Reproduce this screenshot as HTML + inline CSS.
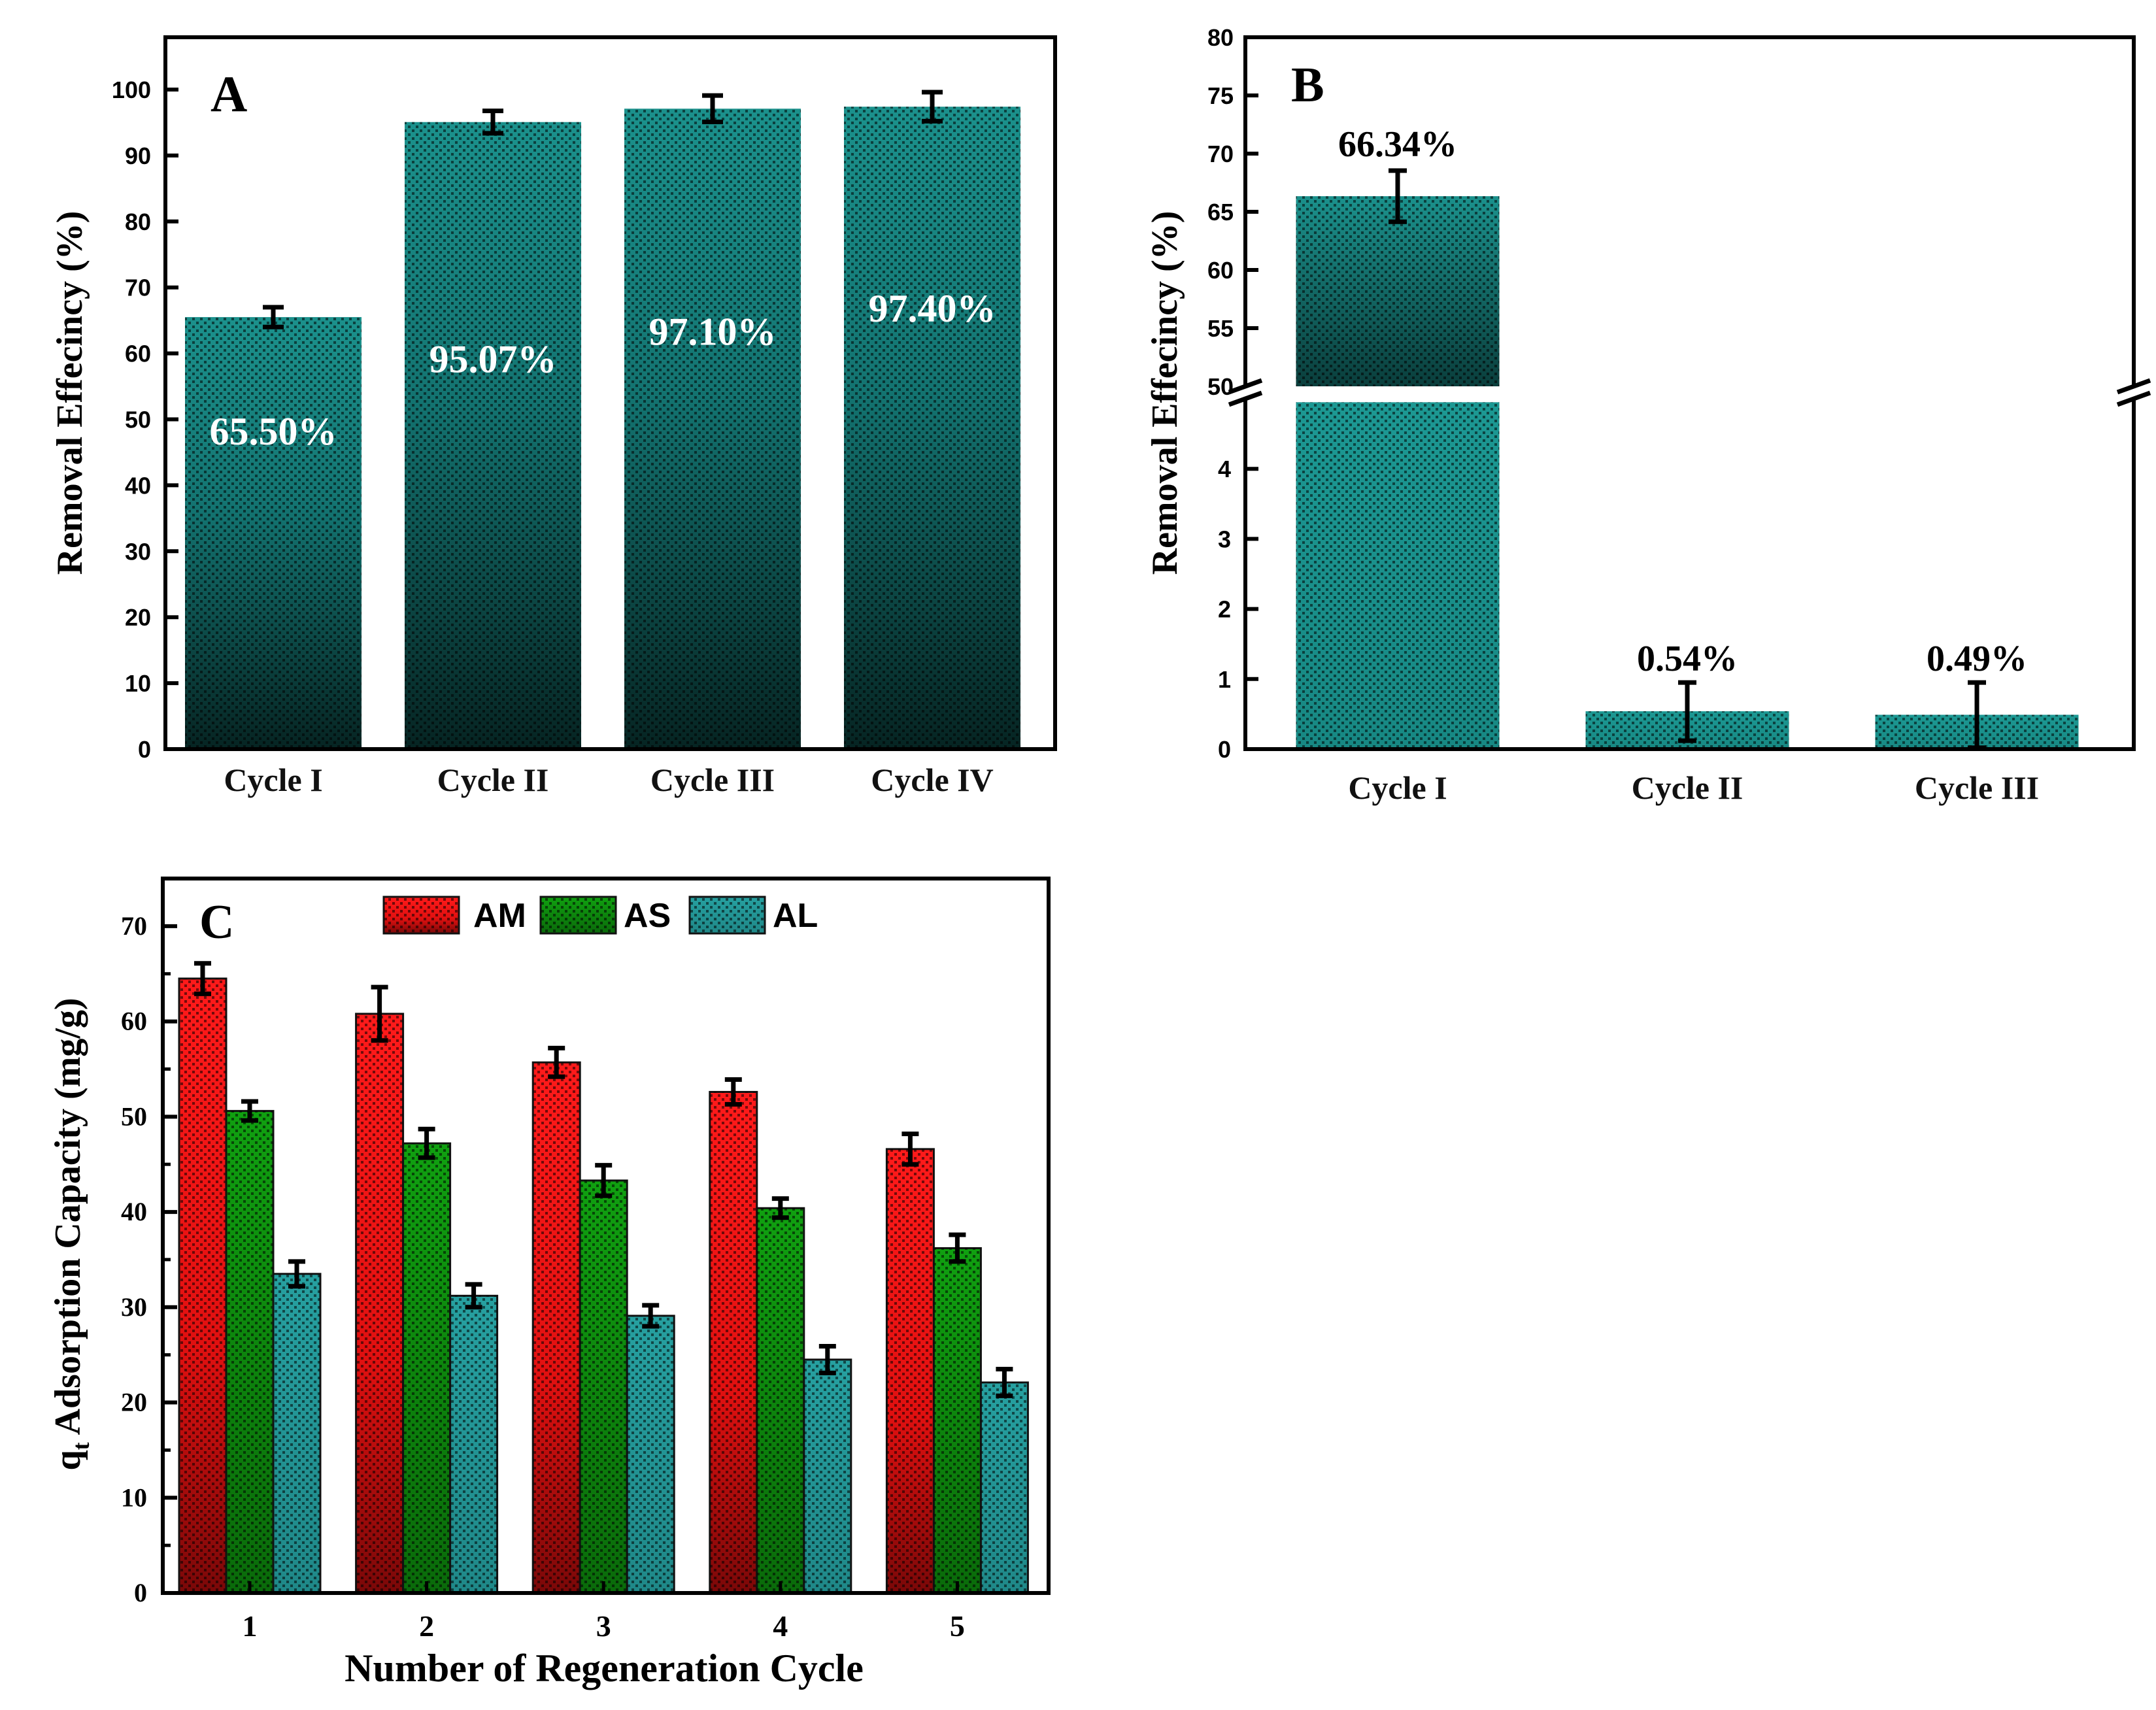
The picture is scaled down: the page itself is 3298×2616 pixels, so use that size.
<!DOCTYPE html>
<html><head><meta charset="utf-8"><style>
html,body{margin:0;padding:0;background:#fff;}
svg{display:block;}
.serif{font-family:"Liberation Serif",serif;font-weight:bold;}
.sans{font-family:"Liberation Sans",sans-serif;font-weight:bold;}
</style></head><body>
<svg id="fig" width="3298" height="2616" viewBox="0 0 3298 2616" xmlns="http://www.w3.org/2000/svg">
<defs>
<pattern id="dots" width="12" height="12" patternUnits="userSpaceOnUse">
<rect x="0" y="0" width="4" height="4" fill="#000" opacity="0.55"/>
<rect x="6" y="6" width="4" height="4" fill="#000" opacity="0.55"/>
</pattern>
<linearGradient id="gTeal" x1="0" y1="0" x2="0" y2="1">
<stop offset="0" stop-color="#1b918c"/><stop offset="0.45" stop-color="#137370"/><stop offset="1" stop-color="#062422"/>
</linearGradient>
<linearGradient id="gTealUp" x1="0" y1="0" x2="0" y2="1">
<stop offset="0" stop-color="#1b918c"/><stop offset="1" stop-color="#0a3e3c"/>
</linearGradient>
<linearGradient id="gTealFlat" x1="0" y1="0" x2="0" y2="1">
<stop offset="0" stop-color="#1c9893"/><stop offset="1" stop-color="#178883"/>
</linearGradient>
<linearGradient id="gRed" x1="0" y1="0" x2="0" y2="1">
<stop offset="0" stop-color="#ff1a1a"/><stop offset="0.6" stop-color="#e01010"/><stop offset="1" stop-color="#7a0808"/>
</linearGradient>
<linearGradient id="gGreen" x1="0" y1="0" x2="0" y2="1">
<stop offset="0" stop-color="#10a010"/><stop offset="1" stop-color="#0a6a0a"/>
</linearGradient>
<linearGradient id="gAL" x1="0" y1="0" x2="0" y2="1">
<stop offset="0" stop-color="#26a0a0"/><stop offset="1" stop-color="#1f8888"/>
</linearGradient>
</defs>
<g id="pa"></g>
<g id="pb"></g>
<g id="pc"></g>
</svg>
<script>
// Panel A data
const catsA = ["Cycle I","Cycle II","Cycle III","Cycle IV"];
const valsA = [65.5, 95.07, 97.1, 97.4];
const errA = [1.5, 1.7, 2.0, 2.2];
const labelsA = ["65.50%","95.07%","97.10%","97.40%"];
const ticksA = [0,10,20,30,40,50,60,70,80,90,100];
// Panel B data
const catsB = ["Cycle I","Cycle II","Cycle III"];
const valsB = [66.34, 0.54, 0.49];
const errHiB = [2.2, 0.41, 0.46];
const errLoB = [2.2, 0.42, 0.47];
const labelsB = ["66.34%","0.54%","0.49%"];
const ticksBLow = [0,1,2,3,4];
const ticksBHigh = [50,55,60,65,70,75,80];
// Panel C data
const catsC = ["1","2","3","4","5"];
const seriesC = ["AM","AS","AL"];
const valsAM = [64.5, 60.8, 55.7, 52.6, 46.6];
const valsAS = [50.6, 47.2, 43.3, 40.4, 36.2];
const valsAL = [33.5, 31.2, 29.1, 24.5, 22.1];
const errAM = [1.6, 2.8, 1.5, 1.3, 1.6];
const errAS = [1.0, 1.5, 1.6, 1.0, 1.4];
const errAL = [1.3, 1.2, 1.1, 1.4, 1.4];
const ticksC = [0,10,20,30,40,50,60,70];

const NS="http://www.w3.org/2000/svg";
function mk(parent,tag,attrs,text){const e=document.createElementNS(NS,tag);for(const k in attrs)e.setAttribute(k,attrs[k]);if(text!==undefined)e.textContent=text;parent.appendChild(e);return e;}
function errbar(g,x,yTop,yBot,cap){
  const e=mk(g,'path',{d:`M${x-cap} ${yTop}H${x+cap}M${x} ${yTop}V${yBot}M${x-cap} ${yBot}H${x+cap}`,stroke:'#000','stroke-width':7,fill:'none'});
  
  
}
function bar(g,x,y,w,h,fill,stroke){
  const r=mk(g,'rect',{x:x,y:y,width:w,height:h,fill:fill,stroke:stroke||'none','stroke-width':stroke?3:0});
  
  
  mk(g,'rect',{x:x,y:y,width:w,height:h,fill:'url(#dots)'});
  return r;
}

// ---------- Panel A ----------
(function(){
  const g=document.getElementById('pa');
  const L=253,R=1614,T=57,B=1146;
  const y=v=>B-(B-137)*v/100;
  const x=i=>418+i*336;
  const bw=270;
  const labOff=[195,383,361,329];
  catsA.forEach((c,i)=>{
    bar(g,x(i)-bw/2,y(valsA[i]),bw,B-y(valsA[i]),'url(#gTeal)');
    errbar(g,x(i),y(valsA[i]+errA[i]),y(valsA[i]-errA[i]),16);
    const lbl=mk(g,'text',{x:x(i),y:y(valsA[i])+labOff[i],'text-anchor':'middle',class:'serif','font-size':60,fill:'#fff'},labelsA[i]);
    
    
    const cl=mk(g,'text',{x:x(i),y:1210,'text-anchor':'middle',class:'serif','font-size':50,fill:'#111'},c);
    
    
  });
  ticksA.forEach(t=>{
    mk(g,'line',{x1:L,x2:L+20,y1:y(t),y2:y(t),stroke:'#000','stroke-width':6});
    const tl=mk(g,'text',{x:L-22,y:y(t)+13,'text-anchor':'end',class:'sans','font-size':36},t);
    
    
  });
  const ax=mk(g,'rect',{x:L,y:T,width:R-L,height:B-T,fill:'none',stroke:'#000','stroke-width':6});
  
  
  const yt=mk(g,'text',{x:0,y:0,transform:'translate(125,601) rotate(-90)','text-anchor':'middle',class:'serif','font-size':56},'Removal Effecincy  (%)');
  
  
  const pl=mk(g,'text',{x:322,y:170,class:'serif','font-size':78},'A');
  
  
})();

// ---------- Panel B ----------
(function(){
  const g=document.getElementById('pb');
  const L=1905,R=3264,T=57,B=1146;
  const yLow=v=>B-(B-610)*v/5;
  const yHigh=v=>591-(591-57)*(v-50)/30;
  const x=i=>2138+i*443;
  const bw=311;
  catsB.forEach((c,i)=>{
    const v=valsB[i];
    if(v>5){
      bar(g,x(i)-bw/2,yLow(4.95),bw,B-yLow(4.95),'url(#gTealFlat)');
      bar(g,x(i)-bw/2,yHigh(v),bw,yHigh(50)-yHigh(v),'url(#gTealUp)');
      errbar(g,x(i),yHigh(v+errHiB[i]),yHigh(v-errLoB[i]),14);
      const lbl=mk(g,'text',{x:x(i),y:yHigh(v+errHiB[i])-22,'text-anchor':'middle',class:'serif','font-size':56},labelsB[i]);
      
      
    } else {
      bar(g,x(i)-bw/2,yLow(v),bw,B-yLow(v),'url(#gTealFlat)');
      errbar(g,x(i),yLow(v+errHiB[i]),yLow(v-errLoB[i]),14);
      const lbl=mk(g,'text',{x:x(i),y:yLow(v+errHiB[i])-18,'text-anchor':'middle',class:'serif','font-size':56},labelsB[i]);
      
      
    }
    const cl=mk(g,'text',{x:x(i),y:1222,'text-anchor':'middle',class:'serif','font-size':50,fill:'#111'},c);
    
    
  });
  ticksBLow.forEach(t=>{
    mk(g,'line',{x1:L,x2:L+20,y1:yLow(t),y2:yLow(t),stroke:'#000','stroke-width':6});
    const tl=mk(g,'text',{x:L-22,y:yLow(t)+13,'text-anchor':'end',class:'sans','font-size':36,'font-weight':'normal'},t);
    
    
  });
  ticksBHigh.forEach(t=>{
    if(t!==80&&t!==50) mk(g,'line',{x1:L,x2:L+20,y1:yHigh(t),y2:yHigh(t),stroke:'#000','stroke-width':6});
    const tl=mk(g,'text',{x:L-18,y:yHigh(t)+13,'text-anchor':'end',class:'sans','font-size':36,'font-weight':'normal'},t);
    
    
  });
  const fr=mk(g,'path',{d:`M${L} 591V${T}H${R}V591M${L} 610V${B}H${R}V610`,fill:'none',stroke:'#000','stroke-width':6});
  
  
  [L,R].forEach(xx=>{
    const bk=mk(g,'path',{d:`M${xx-25} ${600}L${xx+25} ${582}M${xx-25} ${619}L${xx+25} ${601}`,stroke:'#000','stroke-width':7,fill:'none'});
    
    
  });
  const yt=mk(g,'text',{x:0,y:0,transform:'translate(1800,601) rotate(-90)','text-anchor':'middle',class:'serif','font-size':56},'Removal Effecincy  (%)');
  
  
  const pl=mk(g,'text',{x:1975,y:155,class:'serif','font-size':76},'B');
  
  
})();

// ---------- Panel C ----------
(function(){
  const g=document.getElementById('pc');
  const L=249,R=1604,T=1344,B=2437;
  const y=v=>B-(B-T)*v/75;
  const x=i=>382+i*270.6;
  const bw=72;
  const vals=[valsAM,valsAS,valsAL], errs=[errAM,errAS,errAL];
  const fills=['url(#gRed)','url(#gGreen)','url(#gAL)'];
  catsC.forEach((c,i)=>{
    vals.forEach((s,k)=>{
      const cx=x(i)+(k-1)*bw;
      bar(g,cx-bw/2,y(s[i]),bw,B-y(s[i]),fills[k],'#111');
      errbar(g,cx,y(s[i]+errs[k][i]),y(s[i]-errs[k][i]),13);
    });
    const cl=mk(g,'text',{x:x(i),y:2503,'text-anchor':'middle',class:'serif','font-size':46},c);
    
    
  });
  for(let t=5;t<75;t+=10) mk(g,'line',{x1:L,x2:L+12,y1:y(t),y2:y(t),stroke:'#000','stroke-width':5});
  ticksC.forEach(t=>{
    mk(g,'line',{x1:L,x2:L+22,y1:y(t),y2:y(t),stroke:'#000','stroke-width':6});
    const tl=mk(g,'text',{x:L-24,y:y(t)+13,'text-anchor':'end',class:'serif','font-size':40},t);
    
    
  });
  catsC.forEach((c,i)=>mk(g,'line',{x1:x(i),x2:x(i),y1:B,y2:B-18,stroke:'#000','stroke-width':5}));
  const ax=mk(g,'rect',{x:L,y:T,width:R-L,height:B-T,fill:'none',stroke:'#000','stroke-width':6});
  
  
  const lx=[587,827,1055], tx=[724,954,1182];
  seriesC.forEach((s,k)=>{
    const lg=mk(g,'g',{});
    
    
    mk(lg,'rect',{x:lx[k],y:1372,width:115,height:56,fill:fills[k],stroke:'#111','stroke-width':3});
    mk(lg,'rect',{x:lx[k],y:1372,width:115,height:56,fill:'url(#dots)'});
    mk(lg,'text',{x:tx[k],y:1418,class:'sans','font-size':52},s);
  });
  const pl=mk(g,'text',{x:305,y:1435,class:'serif','font-size':74},'C');
  
  
  const yt=mk(g,'text',{x:0,y:0,transform:'translate(122,1888) rotate(-90)','text-anchor':'middle',class:'serif','font-size':56});
  
  
  mk(yt,'tspan',{},'q');
  mk(yt,'tspan',{'font-size':36,dy:14},'t');
  mk(yt,'tspan',{dy:-14},' Adsorption Capacity (mg/g)');
  const xt=mk(g,'text',{x:924,y:2572,'text-anchor':'middle',class:'serif','font-size':60},'Number of Regeneration Cycle');
  
  
})();
</script>
</body></html>
